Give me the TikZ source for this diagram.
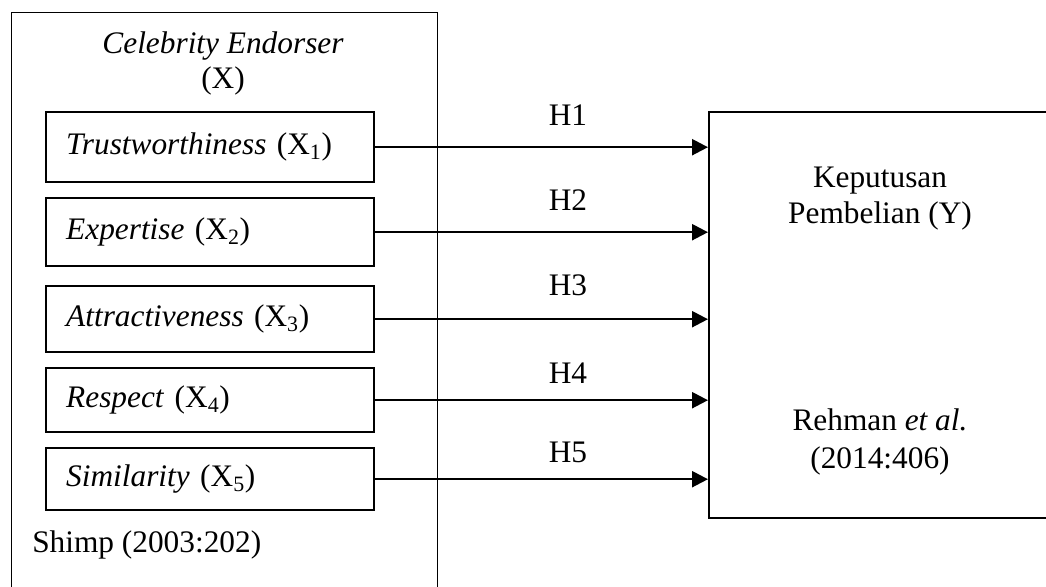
\documentclass[tikz,border=0pt]{standalone}
\usepackage{fontspec}
\setmainfont{Liberation Serif}
\usetikzlibrary{arrows.meta}
\begin{document}
\begin{tikzpicture}[x=0.75pt,y=-0.75pt,
  every node/.style={font=\fontsize{23.5}{27}\selectfont},
  varbox/.style={draw,line width=1.8pt,rectangle,anchor=north west,
    text width=216pt,inner xsep=15pt,inner ysep=0pt,align=left,minimum width=246pt},
  frame/.style={draw,rectangle,anchor=north west,inner sep=0pt},
  hyp/.style={-{Triangle[length=12pt,width=12pt]},line width=1.8pt},
  lab/.style={anchor=base,inner sep=0pt}]
  \clip (0,0) rectangle (1046,586);
  \fill[white] (0,0) rectangle (1046,586);
  % independent variable frame
  \node[frame,line width=1.1pt,minimum width=319.5pt,minimum height=480pt] (X) at (11,12) {};
  \node[lab] (xt1) at (223,53) {\itshape Celebrity Endorser};
  \node[lab] (xt2) at (223,88) {(X)};
  % dimensions
  \node[varbox,minimum height=52.5pt] (b1) at (45,111) {\textit{Trustworthiness} (X\textsubscript{1})};
  \node[varbox,minimum height=51pt] (b2) at (45,197) {\textit{Expertise} (X\textsubscript{2})};
  \node[varbox,minimum height=49.5pt] (b3) at (45,285) {\textit{Attractiveness} (X\textsubscript{3})};
  \node[varbox,minimum height=48pt] (b4) at (45,367) {\textit{Respect} (X\textsubscript{4})};
  \node[varbox,minimum height=46.5pt] (b5) at (45,447) {\textit{Similarity} (X\textsubscript{5})};
  \node[lab,anchor=base west] (src1) at (32,552) {Shimp (2003:202)};
  % dependent variable
  \node[frame,line width=1.6pt,minimum width=300pt,minimum height=304.5pt] (Y) at (708,111) {};
  \node[lab] (yt1) at (880,187) {Keputusan};
  \node[lab] (yt2) at (880,223) {Pembelian (Y)};
  \node[lab] (src2) at (880,430) {Rehman \textit{et al.}};
  \node[lab] (src3) at (880,468) {(2014:406)};
  % hypotheses
  \draw[hyp] (b1.east) -- (b1.east -| Y.west);
  \draw[hyp] (b2.east) -- (b2.east -| Y.west);
  \draw[hyp] (b3.east) -- (b3.east -| Y.west);
  \draw[hyp] (b4.east) -- (b4.east -| Y.west);
  \draw[hyp] (b5.east) -- (b5.east -| Y.west);
  \node[lab] (h1) at (568,125) {H1};
  \node[lab] (h2) at (568,210) {H2};
  \node[lab] (h3) at (568,295) {H3};
  \node[lab] (h4) at (568,383) {H4};
  \node[lab] (h5) at (568,462) {H5};
\end{tikzpicture}
\end{document}
